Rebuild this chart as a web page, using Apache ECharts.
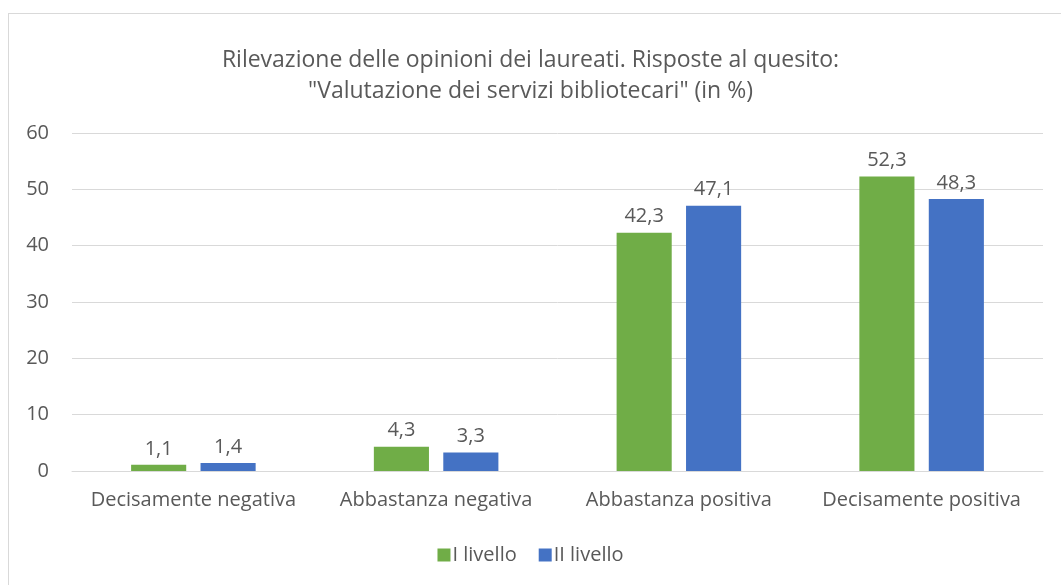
<!DOCTYPE html>
<html>
<head>
<meta charset="utf-8">
<script src="https://cdn.jsdelivr.net/npm/echarts@6/dist/echarts.min.js"></script>
<style>
	html, body { margin: 0; padding: 0; background: #fff; }
	#frame { position: absolute; left: 8px; top: 13px; width: 1070px; height: 600px; border: 1px solid #d9d9d9; box-sizing: border-box; }
	#chart { position: absolute; left: 0; top: 0; width: 1061px; height: 585px; }
</style>
</head>
<body>
<div id="frame"></div>
<div id="chart"></div>
<script>
var categories = ['Decisamente negativa', 'Abbastanza negativa', 'Abbastanza positiva', 'Decisamente positiva'];
var livello1 = [1.1, 4.3, 42.3, 52.3];
var livello2 = [1.4, 3.3, 47.1, 48.3];
var yTicks = [0, 10, 20, 30, 40, 50, 60];

var textColor = '#595959';
var fontName = '"Open Sans", sans-serif';

var mainChart = echarts.init(document.getElementById('chart'));

function labelFmt(p) {
	return String(p.value).replace('.', ',');
}

var chartOption = {
	animation: false,
	textStyle: { fontFamily: fontName },
	title: {
		text: 'Rilevazione delle opinioni dei laureati. Risposte al quesito:\n"Valutazione dei servizi bibliotecari" (in %)',
		left: 'center',
		top: 40,
		textStyle: {
			color: textColor,
			fontSize: 23,
			fontWeight: 'normal',
			lineHeight: 31,
			fontFamily: fontName
		}
	},
	legend: {
		top: 540,
		left: 'center',
		itemWidth: 13,
		itemHeight: 13,
		itemGap: 22,
		icon: 'rect',
		selectedMode: false,
		textStyle: { color: textColor, fontSize: 20, padding: [0, 0, 0, -3] },
		data: ['I livello', 'II livello']
	},
	grid: {
		top: 133,
		left: 72,
		right: 18,
		bottom: 114
	},
	xAxis: {
		type: 'category',
		data: categories,
		axisTick: { show: false },
		axisLine: { lineStyle: { color: '#d9d9d9', width: 1 } },
		axisLabel: { color: textColor, fontSize: 20, margin: 19, interval: 0 }
	},
	yAxis: {
		type: 'value',
		min: yTicks[0],
		max: yTicks[yTicks.length - 1],
		interval: 10,
		axisLine: { show: false },
		axisTick: { show: false },
		splitLine: { lineStyle: { color: '#d9d9d9', width: 1 } },
		axisLabel: { color: textColor, fontSize: 20, margin: 23 }
	},
	series: [{
		name: 'I livello',
		type: 'bar',
		data: livello1,
		barWidth: '22.7%',
		barGap: '26%',
		itemStyle: { color: '#70ad47' },
		label: { show: true, position: 'top', color: textColor, fontSize: 20, distance: 6, formatter: labelFmt }
	}, {
		name: 'II livello',
		type: 'bar',
		data: livello2,
		barWidth: '22.7%',
		itemStyle: { color: '#4472c4' },
		label: { show: true, position: 'top', color: textColor, fontSize: 20, distance: 6, formatter: labelFmt }
	}]
};

mainChart.setOption(chartOption);
</script>
</body>
</html>
